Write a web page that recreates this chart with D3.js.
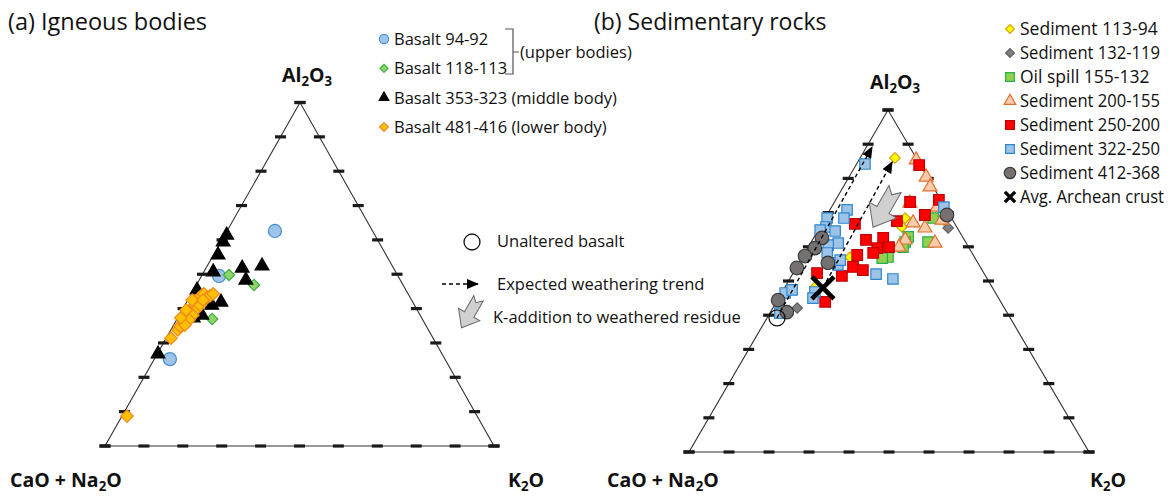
<!DOCTYPE html>
<html>
<head>
<meta charset="utf-8">
<script src="https://cdn.jsdelivr.net/npm/d3@7"></script>
<style>
  body { margin: 0; background: #fff; }
  svg { display: block; }
  text { font-family: "Open Sans", sans-serif; fill: #111; }
</style>
</head>
<body>
<svg id="chart" width="1175" height="498"></svg>
<script>
// every point is [Al2O3 %, K2O %]; CaO + Na2O is the remainder to 100
// (a) igneous bodies
const basalt94_92 = [[62.6, 12.3], [49.5, 4.5], [25.3, 4.0]];
const basalt118_113 = [[49.8, 6.9], [46.9, 14.8], [37.0, 9.0]];
const basalt353_323 = [[61.4, 0.5], [59.4, 0.6], [55.6, 1.2], [51.8, 9.3], [52.4, 14.1], [50.7, 2.4],
  [48.3, 12.0], [41.9, 8.8], [41.0, 6.9], [38.1, 5.8], [37.3, 4.0], [26.8, 0.2], [45.4, 0.9]];
const basalt481_416 = [[31.4, 1.2], [33.8, 1.8], [34.9, 1.8], [36.1, 2.0], [37.3, 2.1], [38.4, 2.1],
  [39.3, 2.2], [40.2, 2.2], [41.0, 2.6], [41.9, 2.6], [43.1, 2.6], [43.7, 2.8], [44.3, 3.2], [43.1, 4.6],
  [43.7, 5.1], [44.3, 5.6], [39.6, 3.5], [38.1, 3.5], [36.7, 3.2], [35.2, 2.9], [41.0, 3.9], [42.5, 3.9],
  [42.5, 1.1], [39.6, 1.0], [37.3, 0.8], [8.7, 1.3]];

// (b) sedimentary rocks
const sed113_94 = [[86.0, 8.7], [68.4, 20.0], [65.8, 20.5], [57.0, 11.9], [48.2, 7.5], [67.8, 30.0]];
const sed132_119 = [[42.1, 6.1], [65.5, 32.2]];
const oil155_132 = [[68.4, 27.0], [62.9, 23.5], [61.4, 23.5], [59.9, 23.7], [57.0, 21.4], [56.7, 20.1], [61.4, 29.2]];
const sed200_155 = [[85.4, 14.3], [80.4, 19.3], [77.5, 21.7], [72.8, 19.0], [71.6, 26.4], [67.0, 22.7],
  [65.5, 26.4], [67.8, 29.5], [62.0, 23.2], [59.9, 22.7], [61.1, 31.1]];
const sed250_200 = [[83.9, 15.8], [73.1, 18.9], [73.7, 25.8], [69.3, 24.5], [67.5, 18.4], [66.7, 8.3],
  [62.0, 13.4], [62.6, 17.4], [59.6, 17.4], [59.9, 20.2], [58.2, 17.1], [57.6, 13.4], [54.1, 14.1],
  [53.2, 17.0], [51.5, 12.6], [52.3, 6.0], [43.9, 12.2]];
const sed322_250 = [[84.2, 2.1], [70.8, 4.3], [68.4, 4.7], [68.4, 0.5], [65.8, 1.5], [64.6, 4.4], [64.9, 0.5],
  [61.1, 6.9], [60.5, 4.7], [58.2, 5.6], [54.7, 10.0], [55.3, 7.8], [52.0, 20.9], [50.6, 25.8], [71.6, 28.1],
  [46.8, 8.2], [45.0, 8.6], [46.5, 0.9], [47.4, 2.2], [40.6, 2.5], [56.1, 9.9]];
const sed412_368 = [[62.6, 2.1], [59.6, 1.8], [57.3, 0.5], [53.8, 0.2], [55.3, 7.2], [44.4, 0.2], [40.9, 4.1], [69.3, 30.0]];
const archeanCrust = [[48.0, 9.6]];
const unalteredBasalt = [[39.2, 2.5]];

// expected weathering trends: [start, end]
const weatheringTrends = [[[39.2, 2.5], [89.2, 1.4]], [[48.0, 9.6], [84.8, 8.6]]];
const kAdditionAt = [71.3, 13.3];

const tickValues = d3.range(0, 101, 10);
const apexLabel = "Al2O3", leftLabel = "CaO + Na2O", rightLabel = "K2O";

const svg = d3.select("#chart");

// ternary projection built from linear scales
function ternary(geom) {
  const yA = d3.scaleLinear().domain([0, 100]).range([geom.bl[1], geom.apex[1]]);
  const xLeft = d3.scaleLinear().domain([0, 100]).range([geom.bl[0], geom.apex[0]]);
  const xK = d3.scaleLinear().domain([0, 100]).range([0, geom.br[0] - geom.bl[0]]);
  return (a, k) => [xLeft(a) + xK(k), yA(a)];
}

const shapes = {
  circle: { type: d3.symbolCircle, rot: 0 },
  square: { type: d3.symbolSquare, rot: 0 },
  diamond: { type: d3.symbolSquare, rot: 45 },
  triangle: { type: d3.symbolTriangle, rot: 0 },
};

function symbolPath(shape, size) {
  return d3.symbol().type(shapes[shape].type).size(size)();
}

// chemistry label, digits become subscripts
function chemLabel(sel, str, size) {
  const parts = str.match(/[0-9]+|[^0-9]+/g);
  parts.forEach((p) => {
    if (/^[0-9]+$/.test(p)) {
      sel.append("tspan").attr("font-size", size * 0.68).attr("dy", size * 0.22).text(p);
    } else {
      const t = sel.append("tspan").text(p);
      if (sel.selectAll("tspan").size() > 1) t.attr("dy", -size * 0.22);
    }
  });
}

function drawPanel(geom) {
  const proj = ternary(geom);
  const g = svg.append("g");

  const corners = [proj(100, 0), proj(0, 0), proj(0, 100)];
  g.append("path")
    .attr("d", d3.line()(corners) + "Z")
    .attr("fill", "none")
    .attr("stroke", "#333")
    .attr("stroke-width", 1.1);

  // tick dashes every 10 %
  const ticks = [];
  tickValues.forEach((v) => {
    ticks.push(proj(0, v));
    ticks.push(proj(v, 0));
    ticks.push(proj(v, 100 - v));
  });
  g.selectAll("line.tick")
    .data(ticks)
    .join("line")
    .attr("class", "tick")
    .attr("x1", (d) => d[0] - 5.5)
    .attr("x2", (d) => d[0] + 5.5)
    .attr("y1", (d) => d[1])
    .attr("y2", (d) => d[1])
    .attr("stroke", "#1a1a1a")
    .attr("stroke-width", 3.2);

  // vertex labels
  const top = proj(100, 0);
  const fs = 19.5;
  chemLabel(g.append("text").attr("x", top[0] - 18).attr("y", top[1] - 21)
    .attr("font-size", fs).attr("font-weight", "bold"), apexLabel, fs);
  chemLabel(g.append("text").attr("x", geom.labelLeftX).attr("y", 487)
    .attr("font-size", fs).attr("font-weight", "bold"), leftLabel, fs);
  chemLabel(g.append("text").attr("x", geom.labelRightX).attr("y", 487)
    .attr("font-size", fs).attr("font-weight", "bold"), rightLabel, fs);

  return { g, proj };
}

function drawSeries(panel, series) {
  series.forEach((s) => {
    panel.g.append("g")
      .selectAll("path")
      .data(s.data)
      .join("path")
      .attr("d", symbolPath(s.shape, s.size))
      .attr("transform", (d) => {
        const p = panel.proj(d[0], d[1]);
        return `translate(${p[0]},${p[1]}) rotate(${shapes[s.shape].rot})`;
      })
      .attr("fill", s.fill)
      .attr("stroke", s.stroke)
      .attr("stroke-width", 1.2);
  });
}

function drawLegend(series, x, y0, step, fontSize, markerScale, fitWidth) {
  const lg = svg.append("g");
  series.forEach((s, i) => {
    const y = y0 + i * step;
    if (s.shape === "x") {
      lg.append("path")
        .attr("d", d3.symbol().type(d3.symbolX).size(70)())
        .attr("transform", `translate(${x},${y})`)
        .attr("stroke", "#000").attr("stroke-width", 3.4).attr("fill", "none");
    } else {
      lg.append("path")
        .attr("d", symbolPath(s.shape, s.size * markerScale))
        .attr("transform", `translate(${x},${y}) rotate(${shapes[s.shape].rot})`)
        .attr("fill", s.fill)
        .attr("stroke", s.stroke)
        .attr("stroke-width", 1.2);
    }
    const t = lg.append("text")
      .attr("x", x + 10)
      .attr("y", y + fontSize * 0.36)
      .attr("font-size", fontSize)
      .text(s.label);
    // squeeze a label that would run past its room
    if (fitWidth && t.node().getComputedTextLength() > fitWidth) {
      t.attr("textLength", fitWidth).attr("lengthAdjust", "spacingAndGlyphs");
    }
  });
  return lg;
}

// ---------- panel (a) ----------
const left = drawPanel({ apex: [300, 102.5], bl: [105, 446], br: [494, 446], labelLeftX: 10, labelRightX: 508 });
const igneous = [
  { label: "Basalt 94-92", data: basalt94_92, shape: "circle", size: 135, fill: "#9dc3e6", stroke: "#4a90d0" },
  { label: "Basalt 118-113", data: basalt118_113, shape: "diamond", size: 64, fill: "#8fd468", stroke: "#3cb043" },
  { label: "Basalt 353-323 (middle body)", data: basalt353_323, shape: "triangle", size: 82, fill: "#000", stroke: "#000" },
  { label: "Basalt 481-416 (lower body)", data: basalt481_416, shape: "diamond", size: 78, fill: "#ffc000", stroke: "#ee8a1c" },
];
drawSeries(left, igneous);

svg.append("text").attr("x", 8).attr("y", 30).attr("font-size", 23.5).text("(a) Igneous bodies");
drawLegend(igneous, 384, 39, 29.3, 16.5, 0.5);
svg.append("path")
  .attr("d", "M505,29 H513 V74 H505 M513,52 H519")
  .attr("fill", "none").attr("stroke", "#555").attr("stroke-width", 1.2);
svg.append("text").attr("x", 520).attr("y", 58).attr("font-size", 16.5).text("(upper bodies)");

// ---------- panel (b) ----------
const right = drawPanel({ apex: [888, 110], bl: [689, 452], br: [1089, 452], labelLeftX: 607, labelRightX: 1090 });
const sediments = [
  { label: "Sediment 113-94", data: sed113_94, shape: "diamond", size: 55, fill: "#ffff00", stroke: "#d9a400" },
  { label: "Sediment 132-119", data: sed132_119, shape: "diamond", size: 55, fill: "#808080", stroke: "#5e5e5e" },
  { label: "Oil spill 155-132", data: oil155_132, shape: "square", size: 108, fill: "#92d050", stroke: "#22b14c" },
  { label: "Sediment 200-155", data: sed200_155, shape: "triangle", size: 84, fill: "#f8cbad", stroke: "#e0702a" },
  { label: "Sediment 250-200", data: sed250_200, shape: "square", size: 112, fill: "#ff0000", stroke: "#c00000" },
  { label: "Sediment 322-250", data: sed322_250, shape: "square", size: 108, fill: "#9dc3e6", stroke: "#2e86d0" },
  { label: "Sediment 412-368", data: sed412_368, shape: "circle", size: 145, fill: "#767171", stroke: "#3a3a3a" },
];
drawSeries(right, sediments);

// average Archean crust
right.g.selectAll("path.crust")
  .data(archeanCrust)
  .join("path")
  .attr("class", "crust")
  .attr("d", d3.symbol().type(d3.symbolX).size(320)())
  .attr("transform", (d) => { const p = right.proj(d[0], d[1]); return `translate(${p[0]},${p[1]})`; })
  .attr("stroke", "#000").attr("stroke-width", 4.5).attr("fill", "none");

// unaltered basalt
right.g.selectAll("circle.basalt")
  .data(unalteredBasalt)
  .join("circle")
  .attr("class", "basalt")
  .attr("cx", (d) => right.proj(d[0], d[1])[0])
  .attr("cy", (d) => right.proj(d[0], d[1])[1])
  .attr("r", 8)
  .attr("fill", "none").attr("stroke", "#111").attr("stroke-width", 1.3);

// arrowhead marker
svg.append("defs").append("marker")
  .attr("id", "head")
  .attr("markerUnits", "userSpaceOnUse")
  .attr("viewBox", "0 0 12 10")
  .attr("markerWidth", 12).attr("markerHeight", 10)
  .attr("refX", 11).attr("refY", 5)
  .attr("orient", "auto")
  .append("path").attr("d", "M0,0 L12,5 L0,10 Z").attr("fill", "#000");

right.g.selectAll("line.trend")
  .data(weatheringTrends)
  .join("line")
  .attr("class", "trend")
  .attr("x1", (d) => right.proj(d[0][0], d[0][1])[0])
  .attr("y1", (d) => right.proj(d[0][0], d[0][1])[1])
  .attr("x2", (d) => right.proj(d[1][0], d[1][1])[0])
  .attr("y2", (d) => right.proj(d[1][0], d[1][1])[1])
  .attr("stroke", "#000").attr("stroke-width", 1.4)
  .attr("stroke-dasharray", "4,3")
  .attr("marker-end", "url(#head)");

// notched block arrow (K-addition)
const blockArrow = [[-1, -0.32], [0.1, -0.32], [0.1, -0.72], [1, 0], [0.1, 0.72], [0.1, 0.32], [-1, 0.32], [-0.7, 0]];
function fatArrow(cx, cy, scale, angle) {
  svg.append("path")
    .attr("d", d3.line()(blockArrow.map((p) => [p[0] * scale, p[1] * scale])) + "Z")
    .attr("transform", `translate(${cx},${cy}) rotate(${angle})`)
    .attr("fill", "#d0d0d0").attr("stroke", "#666").attr("stroke-width", 1);
}
const kp = right.proj(kAdditionAt[0], kAdditionAt[1]);
fatArrow(kp[0], kp[1], 22, 120);

svg.append("text").attr("x", 594).attr("y", 30).attr("font-size", 23).text("(b) Sedimentary rocks");
drawLegend(sediments, 1010, 29, 24, 17.5, 0.7, 140);
drawLegend([{ label: "Avg. Archean crust", shape: "x" }], 1010, 197, 24, 17.5, 1, 144);

// middle legend
svg.append("circle").attr("cx", 472).attr("cy", 242).attr("r", 8)
  .attr("fill", "none").attr("stroke", "#111").attr("stroke-width", 1.3);
svg.append("text").attr("x", 497).attr("y", 247).attr("font-size", 16.5).text("Unaltered basalt");
svg.append("line").attr("x1", 442).attr("x2", 478).attr("y1", 284).attr("y2", 284)
  .attr("stroke", "#000").attr("stroke-width", 1.4).attr("stroke-dasharray", "4,3")
  .attr("marker-end", "url(#head)");
svg.append("text").attr("x", 497).attr("y", 290).attr("font-size", 16.5).text("Expected weathering trend");
fatArrow(470, 313, 17, 120);
svg.append("text").attr("x", 493).attr("y", 323).attr("font-size", 16.5).text("K-addition to weathered residue");
</script>
</body>
</html>
